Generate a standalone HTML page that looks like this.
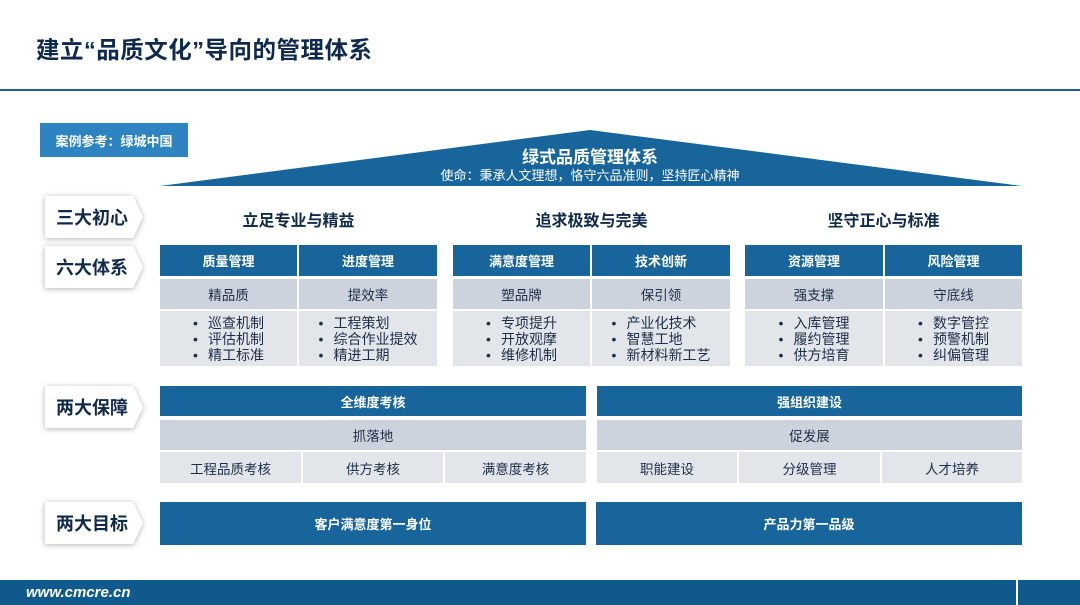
<!DOCTYPE html>
<html><head><meta charset="utf-8"><style>
*{margin:0;padding:0;box-sizing:border-box}
body{width:1080px;height:605px;position:relative;background:#fff;overflow:hidden;font-family:"Liberation Sans","Noto Sans CJK SC",sans-serif;color:#1b2f4f}
.a{position:absolute;display:flex;align-items:center;justify-content:center;text-align:center}
.h{background:#17659b;color:#fff;font-weight:bold;font-size:13px}
.g{background:#ccd3dd;font-size:13.5px;color:#1d2d45}
.l{background:#e2e6eb;font-size:13.5px;color:#1d2d45}
.l ul{list-style:none;text-align:left;line-height:16px;font-size:14px}
.l li:before{content:"•";margin-right:10px}
.tab{position:absolute;filter:drop-shadow(0 1px 3px rgba(0,0,0,.3))}
.tab div{width:98px;height:42px;background:#fff;clip-path:polygon(0 0,90% 0,100% 50%,90% 100%,0 100%);display:flex;align-items:center;padding-left:11px;font-size:18px;font-weight:bold;color:#102a4a}
.t{position:absolute;font-size:16px;font-weight:bold;color:#0f2a4a;text-align:center}
</style></head><body>
<div style="position:absolute;left:36px;top:31px;font-size:23.5px;letter-spacing:0.5px;font-weight:bold;color:#0f2a4f">建立“品质文化”导向的管理体系</div>
<div style="position:absolute;left:0;top:89px;width:1080px;height:2px;background:#1e5f8e"></div>
<div class="a" style="left:40px;top:123px;width:148px;height:34px;background:#2e84c1;color:#fff;font-size:13px;font-weight:bold">案例参考：绿城中国</div>
<svg style="position:absolute;left:0;top:0" width="1080" height="200"><polygon points="160,186 590,130 1022,186" fill="#17659b"/></svg>
<div class="t" style="left:390px;top:143px;width:400px;font-size:17px;color:#fff">绿式品质管理体系</div>
<div class="t" style="left:390px;top:165px;width:400px;font-size:13px;font-weight:normal;color:#fff">使命：秉承人文理想，恪守六品准则，坚持匠心精神</div>
<div class="tab" style="left:45px;top:196px"><div>三大初心</div></div>
<div class="tab" style="left:45px;top:246px"><div>六大体系</div></div>
<div class="tab" style="left:45px;top:386px"><div>两大保障</div></div>
<div class="tab" style="left:45px;top:502px"><div>两大目标</div></div>
<div class="t" style="left:160px;top:207px;width:277px">立足专业与精益</div>
<div class="t" style="left:453px;top:207px;width:277px">追求极致与完美</div>
<div class="t" style="left:745px;top:207px;width:277px">坚守正心与标准</div>

<div class="a h" style="left:160px;top:245px;width:137px;height:31px">质量管理</div>
<div class="a h" style="left:299px;top:245px;width:138px;height:31px">进度管理</div>
<div class="a h" style="left:453px;top:245px;width:137px;height:31px">满意度管理</div>
<div class="a h" style="left:592px;top:245px;width:138px;height:31px">技术创新</div>
<div class="a h" style="left:745px;top:245px;width:138px;height:31px">资源管理</div>
<div class="a h" style="left:885px;top:245px;width:137px;height:31px">风险管理</div>

<div class="a g" style="left:160px;top:279px;width:137px;height:30px">精品质</div>
<div class="a g" style="left:299px;top:279px;width:138px;height:30px">提效率</div>
<div class="a g" style="left:453px;top:279px;width:137px;height:30px">塑品牌</div>
<div class="a g" style="left:592px;top:279px;width:138px;height:30px">保引领</div>
<div class="a g" style="left:745px;top:279px;width:138px;height:30px">强支撑</div>
<div class="a g" style="left:885px;top:279px;width:137px;height:30px">守底线</div>

<div class="a l" style="left:160px;top:311px;width:137px;height:55px"><ul><li>巡查机制</li><li>评估机制</li><li>精工标准</li></ul></div>
<div class="a l" style="left:299px;top:311px;width:138px;height:55px"><ul><li>工程策划</li><li>综合作业提效</li><li>精进工期</li></ul></div>
<div class="a l" style="left:453px;top:311px;width:137px;height:55px"><ul><li>专项提升</li><li>开放观摩</li><li>维修机制</li></ul></div>
<div class="a l" style="left:592px;top:311px;width:138px;height:55px"><ul><li>产业化技术</li><li>智慧工地</li><li>新材料新工艺</li></ul></div>
<div class="a l" style="left:745px;top:311px;width:138px;height:55px"><ul><li>入库管理</li><li>履约管理</li><li>供方培育</li></ul></div>
<div class="a l" style="left:885px;top:311px;width:137px;height:55px"><ul><li>数字管控</li><li>预警机制</li><li>纠偏管理</li></ul></div>

<div class="a h" style="left:160px;top:386px;width:426px;height:30px">全维度考核</div>
<div class="a h" style="left:597px;top:386px;width:425px;height:30px">强组织建设</div>
<div class="a g" style="left:160px;top:420px;width:426px;height:30px">抓落地</div>
<div class="a g" style="left:597px;top:420px;width:425px;height:30px">促发展</div>
<div class="a l" style="left:160px;top:452px;width:141px;height:31px">工程品质考核</div>
<div class="a l" style="left:303px;top:452px;width:140px;height:31px">供方考核</div>
<div class="a l" style="left:445px;top:452px;width:141px;height:31px">满意度考核</div>
<div class="a l" style="left:597px;top:452px;width:140px;height:31px">职能建设</div>
<div class="a l" style="left:739px;top:452px;width:141px;height:31px">分级管理</div>
<div class="a l" style="left:882px;top:452px;width:140px;height:31px">人才培养</div>

<div class="a h" style="left:160px;top:502px;width:426px;height:43px">客户满意度第一身位</div>
<div class="a h" style="left:596px;top:502px;width:426px;height:43px">产品力第一品级</div>

<div style="position:absolute;left:0;top:580px;width:1080px;height:25px;background:#10598d"></div>
<div style="position:absolute;left:1016px;top:580px;width:2px;height:25px;background:#fff"></div>
<div style="position:absolute;left:26px;top:584px;color:#fff;font-size:15px;font-weight:bold;font-style:italic">www.cmcre.cn</div>
</body></html>
